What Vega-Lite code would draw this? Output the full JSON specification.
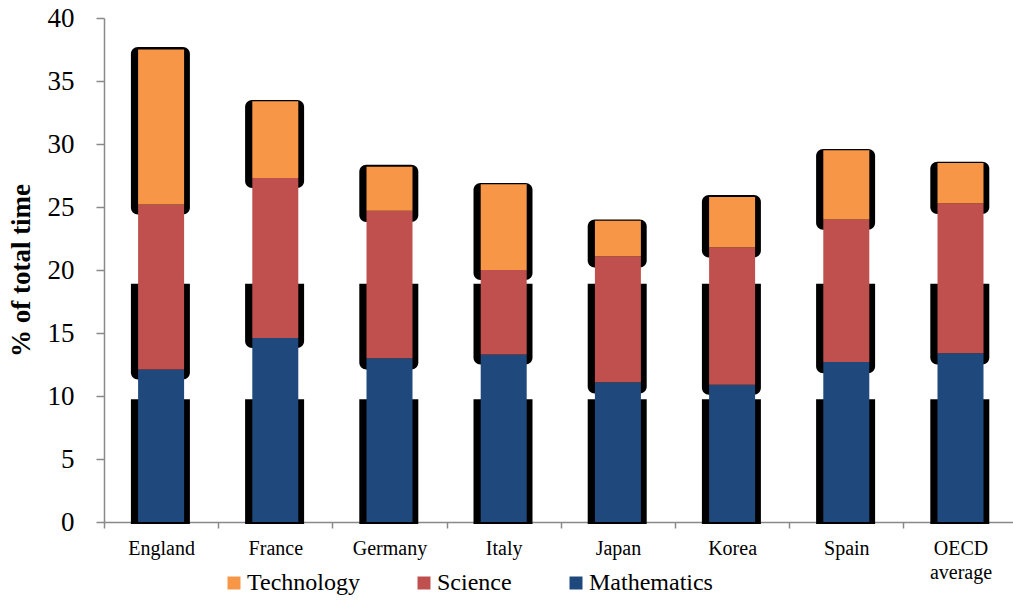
{
  "$schema": "https://vega.github.io/schema/vega-lite/v6.json",
  "width": 909,
  "height": 504,
  "autosize": {"type": "none"},
  "padding": {"left": 104, "top": 18, "right": 0, "bottom": 85},
  "background": "white",
  "datasets": {
    "time": [
      {"country": "England", "subject": "Mathematics", "value": 12.1},
      {"country": "England", "subject": "Science", "value": 13.1},
      {"country": "England", "subject": "Technology", "value": 12.3},
      {"country": "France", "subject": "Mathematics", "value": 14.6},
      {"country": "France", "subject": "Science", "value": 12.7},
      {"country": "France", "subject": "Technology", "value": 6.1},
      {"country": "Germany", "subject": "Mathematics", "value": 13.0},
      {"country": "Germany", "subject": "Science", "value": 11.7},
      {"country": "Germany", "subject": "Technology", "value": 3.5},
      {"country": "Italy", "subject": "Mathematics", "value": 13.3},
      {"country": "Italy", "subject": "Science", "value": 6.7},
      {"country": "Italy", "subject": "Technology", "value": 6.8},
      {"country": "Japan", "subject": "Mathematics", "value": 11.1},
      {"country": "Japan", "subject": "Science", "value": 10.0},
      {"country": "Japan", "subject": "Technology", "value": 2.8},
      {"country": "Korea", "subject": "Mathematics", "value": 10.9},
      {"country": "Korea", "subject": "Science", "value": 10.9},
      {"country": "Korea", "subject": "Technology", "value": 4.0},
      {"country": "Spain", "subject": "Mathematics", "value": 12.7},
      {"country": "Spain", "subject": "Science", "value": 11.3},
      {"country": "Spain", "subject": "Technology", "value": 5.5},
      {"country": "OECD average", "subject": "Mathematics", "value": 13.4},
      {"country": "OECD average", "subject": "Science", "value": 11.9},
      {"country": "OECD average", "subject": "Technology", "value": 3.2}
    ],
    "shadow": [
      {"country": "England", "band": "a", "lo": -0.15, "hi": 9.75},
      {"country": "France", "band": "a", "lo": -0.15, "hi": 9.75},
      {"country": "Germany", "band": "a", "lo": -0.15, "hi": 9.75},
      {"country": "Italy", "band": "a", "lo": -0.15, "hi": 9.75},
      {"country": "Japan", "band": "a", "lo": -0.15, "hi": 9.75},
      {"country": "Korea", "band": "a", "lo": -0.15, "hi": 9.75},
      {"country": "Spain", "band": "a", "lo": -0.15, "hi": 9.75},
      {"country": "OECD average", "band": "a", "lo": -0.15, "hi": 9.75},
      {"country": "England", "band": "b", "lo": 11.3, "hi": 18.9},
      {"country": "France", "band": "b", "lo": 13.8, "hi": 18.9},
      {"country": "Germany", "band": "b", "lo": 12.1, "hi": 18.9},
      {"country": "Italy", "band": "b", "lo": 12.5, "hi": 18.9},
      {"country": "Japan", "band": "b", "lo": 10.2, "hi": 18.9},
      {"country": "Korea", "band": "b", "lo": 10.1, "hi": 18.9},
      {"country": "Spain", "band": "b", "lo": 11.8, "hi": 18.9},
      {"country": "OECD average", "band": "b", "lo": 12.5, "hi": 18.9},
      {"country": "England", "band": "c", "lo": 24.4, "hi": 37.7},
      {"country": "France", "band": "c", "lo": 26.5, "hi": 33.5},
      {"country": "Germany", "band": "c", "lo": 23.8, "hi": 28.35},
      {"country": "Italy", "band": "c", "lo": 19.2, "hi": 26.9},
      {"country": "Japan", "band": "c", "lo": 20.2, "hi": 24.0},
      {"country": "Korea", "band": "c", "lo": 21.0, "hi": 25.95},
      {"country": "Spain", "band": "c", "lo": 23.2, "hi": 29.6},
      {"country": "OECD average", "band": "c", "lo": 24.45, "hi": 28.6}
    ]
  },
  "config": {
    "view": {"stroke": null},
    "font": "Liberation Serif",
    "axis": {
      "domainColor": "#898989",
      "domainWidth": 1.5,
      "tickColor": "#898989",
      "tickWidth": 1.5,
      "labelColor": "black",
      "labelFont": "Liberation Serif",
      "titleFont": "Liberation Serif",
      "titleColor": "black",
      "grid": false
    },
    "axisY": {
      "tickCount": 8,
      "tickSize": 8,
      "labelFontSize": 27,
      "labelPadding": 22,
      "titleFontSize": 27,
      "titleFontWeight": "bold",
      "titlePadding": 12
    },
    "legend": {
      "labelFont": "Liberation Serif",
      "labelFontSize": 24,
      "labelColor": "black"
    }
  },
  "encoding": {
    "x": {"field": "country", "type": "nominal", "sort": null, "title": null,
          "scale": {"domain": ["England", "France", "Germany", "Italy", "Japan", "Korea", "Spain", "OECD average"], "range": [0, 913.6], "paddingInner": 0, "paddingOuter": 0},
          "axis": {"labelAngle": 0, "tickBand": "extent", "tickSize": 6, "labelFontSize": 20, "labelPadding": 10, "labelLineHeight": 24,
                   "labelExpr": "datum.label == 'OECD average' ? ['OECD', 'average'] : datum.label"}}
  },
  "layer": [
    {
      "data": {"name": "shadow"},
      "transform": [{"filter": "datum.band == 'a'"}],
      "mark": {"type": "bar", "color": "black", "size": 59, "xOffset": -0.7},
      "encoding": {
        "y": {"field": "lo", "type": "quantitative", "title": "% of total time", "scale": {"domain": [0, 40], "nice": false}},
        "y2": {"field": "hi"}
      }
    },
    {
      "data": {"name": "shadow"},
      "transform": [{"filter": "datum.band == 'b'"}],
      "mark": {"type": "bar", "color": "black", "size": 59, "xOffset": -0.7, "cornerRadiusBottomLeft": 7, "cornerRadiusBottomRight": 7},
      "encoding": {
        "y": {"field": "lo", "type": "quantitative", "title": "% of total time"},
        "y2": {"field": "hi"}
      }
    },
    {
      "data": {"name": "shadow"},
      "transform": [{"filter": "datum.band == 'c'"}],
      "mark": {"type": "bar", "color": "black", "size": 59, "xOffset": -0.7, "cornerRadius": 7},
      "encoding": {
        "y": {"field": "lo", "type": "quantitative", "title": "% of total time"},
        "y2": {"field": "hi"}
      }
    },
    {
      "data": {"name": "time"},
      "mark": {"type": "bar", "size": 46},
      "encoding": {
        "y": {"field": "value", "type": "quantitative", "aggregate": "sum", "stack": "zero", "title": "% of total time"},
        "color": {"field": "subject", "type": "nominal",
                  "scale": {"domain": ["Technology", "Science", "Mathematics"], "range": ["#F79646", "#C0504D", "#1F497D"]},
                  "legend": {"orient": "none", "legendX": 118, "legendY": 553, "direction": "horizontal", "title": null,
                             "symbolType": "square", "symbolSize": 169, "symbolStrokeWidth": 0,
                             "labelFont": "Liberation Serif", "labelFontSize": 24, "labelColor": "black", "labelOffset": 1, "columnPadding": 52}},
        "order": {"field": "subject", "sort": "ascending"}
      }
    }
  ]
}
